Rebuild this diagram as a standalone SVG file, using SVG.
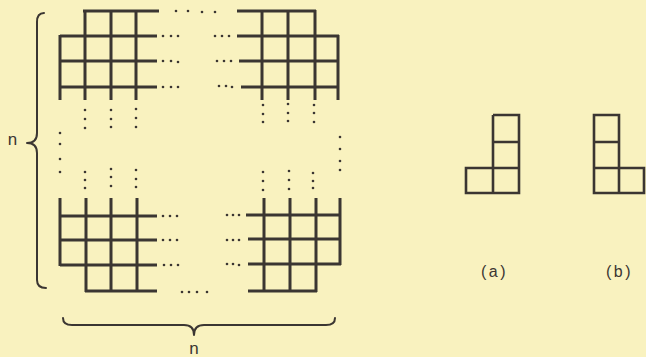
<svg xmlns="http://www.w3.org/2000/svg" width="646" height="357" viewBox="0 0 646 357">
<style>
.g{fill:none;stroke:#3b3632;stroke-width:3;stroke-linecap:butt}
.p{fill:none;stroke:#3b3632;stroke-width:2.6}
.br{fill:none;stroke:#3b3632;stroke-width:2;stroke-linecap:round;stroke-linejoin:round}
.d{fill:#3b3632}
.t{font-family:"Liberation Sans",Arial,sans-serif;fill:#3b3632}
</style>
<rect width="646" height="357" fill="#f9f2bf"/>
<g id="board">
<g id="grid-top-left">
<path class="g" d="M83,11H159M60,36H157M60,61H157M60,87H157M60,35V100M85,10V100M111,10V100M136,10V100"/>
</g>
<g id="grid-top-right">
<path class="g" d="M237,11H316M237,36H339M239,61H339M241,87H339M262,10V100M288,10V100M315,10V100M338,35V100"/>
</g>
<g id="grid-bottom-left">
<path class="g" d="M60,216H157M60,240H157M60,265H157M85,291H157M60,198V266M86,198V292M111,198V292M137,198V292"/>
</g>
<g id="grid-bottom-right">
<path class="g" d="M246,215H341M248,239H341M248,264H341M248,291H317M264,198V292M290,198V292M316,198V292M340,198V265"/>
</g>
<g id="dots">
<circle class="d" cx="176" cy="11" r="1.3"/><circle class="d" cx="188" cy="11" r="1.3"/><circle class="d" cx="202" cy="12" r="1.3"/><circle class="d" cx="215" cy="12" r="1.3"/>
<circle class="d" cx="163" cy="36" r="1.3"/><circle class="d" cx="171" cy="36" r="1.3"/><circle class="d" cx="178" cy="36" r="1.3"/>
<circle class="d" cx="163" cy="61" r="1.3"/><circle class="d" cx="171" cy="61" r="1.3"/><circle class="d" cx="178" cy="62" r="1.3"/>
<circle class="d" cx="163" cy="87" r="1.3"/><circle class="d" cx="171" cy="87" r="1.3"/><circle class="d" cx="178" cy="87" r="1.3"/>
<circle class="d" cx="215" cy="36" r="1.3"/><circle class="d" cx="222" cy="36" r="1.3"/><circle class="d" cx="229" cy="36" r="1.3"/>
<circle class="d" cx="217" cy="61" r="1.3"/><circle class="d" cx="224" cy="61" r="1.3"/><circle class="d" cx="231" cy="61" r="1.3"/>
<circle class="d" cx="219" cy="86" r="1.3"/><circle class="d" cx="226" cy="86" r="1.3"/><circle class="d" cx="232" cy="87" r="1.3"/>
<circle class="d" cx="85" cy="110" r="1.3"/><circle class="d" cx="85" cy="119" r="1.3"/><circle class="d" cx="85" cy="128" r="1.3"/>
<circle class="d" cx="111" cy="110" r="1.3"/><circle class="d" cx="111" cy="119" r="1.3"/><circle class="d" cx="111" cy="127" r="1.3"/>
<circle class="d" cx="136" cy="109" r="1.3"/><circle class="d" cx="136" cy="118" r="1.3"/><circle class="d" cx="136" cy="127" r="1.3"/>
<circle class="d" cx="263" cy="105" r="1.3"/><circle class="d" cx="263" cy="114" r="1.3"/><circle class="d" cx="263" cy="122" r="1.3"/>
<circle class="d" cx="288" cy="104" r="1.3"/><circle class="d" cx="288" cy="113" r="1.3"/><circle class="d" cx="288" cy="121" r="1.3"/>
<circle class="d" cx="314" cy="105" r="1.3"/><circle class="d" cx="314" cy="113" r="1.3"/><circle class="d" cx="314" cy="122" r="1.3"/>
<circle class="d" cx="60" cy="133" r="1.3"/><circle class="d" cx="60" cy="144" r="1.3"/><circle class="d" cx="60" cy="159" r="1.3"/><circle class="d" cx="60" cy="172" r="1.3"/>
<circle class="d" cx="340" cy="137" r="1.3"/><circle class="d" cx="340" cy="149" r="1.3"/><circle class="d" cx="340" cy="161" r="1.3"/><circle class="d" cx="340" cy="170" r="1.3"/>
<circle class="d" cx="85" cy="172" r="1.3"/><circle class="d" cx="85" cy="180" r="1.3"/><circle class="d" cx="85" cy="188" r="1.3"/>
<circle class="d" cx="111" cy="169" r="1.3"/><circle class="d" cx="111" cy="177" r="1.3"/><circle class="d" cx="111" cy="186" r="1.3"/>
<circle class="d" cx="136" cy="170" r="1.3"/><circle class="d" cx="136" cy="179" r="1.3"/><circle class="d" cx="136" cy="187" r="1.3"/>
<circle class="d" cx="263" cy="172" r="1.3"/><circle class="d" cx="263" cy="181" r="1.3"/><circle class="d" cx="263" cy="190" r="1.3"/>
<circle class="d" cx="289" cy="171" r="1.3"/><circle class="d" cx="289" cy="180" r="1.3"/><circle class="d" cx="289" cy="189" r="1.3"/>
<circle class="d" cx="313" cy="173" r="1.3"/><circle class="d" cx="313" cy="181" r="1.3"/><circle class="d" cx="313" cy="188" r="1.3"/>
<circle class="d" cx="163" cy="216" r="1.3"/><circle class="d" cx="170" cy="216" r="1.3"/><circle class="d" cx="177" cy="216" r="1.3"/>
<circle class="d" cx="163" cy="240" r="1.3"/><circle class="d" cx="170" cy="240" r="1.3"/><circle class="d" cx="177" cy="240" r="1.3"/>
<circle class="d" cx="164" cy="265" r="1.3"/><circle class="d" cx="171" cy="265" r="1.3"/><circle class="d" cx="178" cy="265" r="1.3"/>
<circle class="d" cx="227" cy="215" r="1.3"/><circle class="d" cx="233" cy="215" r="1.3"/><circle class="d" cx="239" cy="215" r="1.3"/>
<circle class="d" cx="227" cy="240" r="1.3"/><circle class="d" cx="233" cy="240" r="1.3"/><circle class="d" cx="239" cy="240" r="1.3"/>
<circle class="d" cx="227" cy="264" r="1.3"/><circle class="d" cx="233" cy="264" r="1.3"/><circle class="d" cx="239" cy="265" r="1.3"/>
<circle class="d" cx="182" cy="292" r="1.3"/><circle class="d" cx="189" cy="292" r="1.3"/><circle class="d" cx="197" cy="292" r="1.3"/><circle class="d" cx="207" cy="292" r="1.3"/>
</g>
</g>
<g id="brace-left">
<path class="br" d="M44,13Q37,13 37,22L37,133Q37,143 27,143Q37,143 37,153L37,280Q37,288 46,288"/>
<text class="t" x="12.5" y="145" font-size="17" text-anchor="middle">n</text>
</g>
<g id="brace-bottom">
<path class="br" d="M63,318Q63,325 72,325L184,325Q194,325 194,335Q194,325 204,325L326,325Q335,325 335,318"/>
<text class="t" x="194" y="354" font-size="17" text-anchor="middle">n</text>
</g>
<g id="piece-a">
<path class="p" d="M493,115H519V193H466V168H519M493,193V115M493,142H519"/>
<text class="t" x="481" y="277" font-size="16" letter-spacing="2.5">(a)</text>
</g>
<g id="piece-b">
<path class="p" d="M594,115H619V168H644V193H594ZM594,142H619M594,168H619V193"/>
<text class="t" x="606" y="277" font-size="16" letter-spacing="2.5">(b)</text>
</g>
</svg>
